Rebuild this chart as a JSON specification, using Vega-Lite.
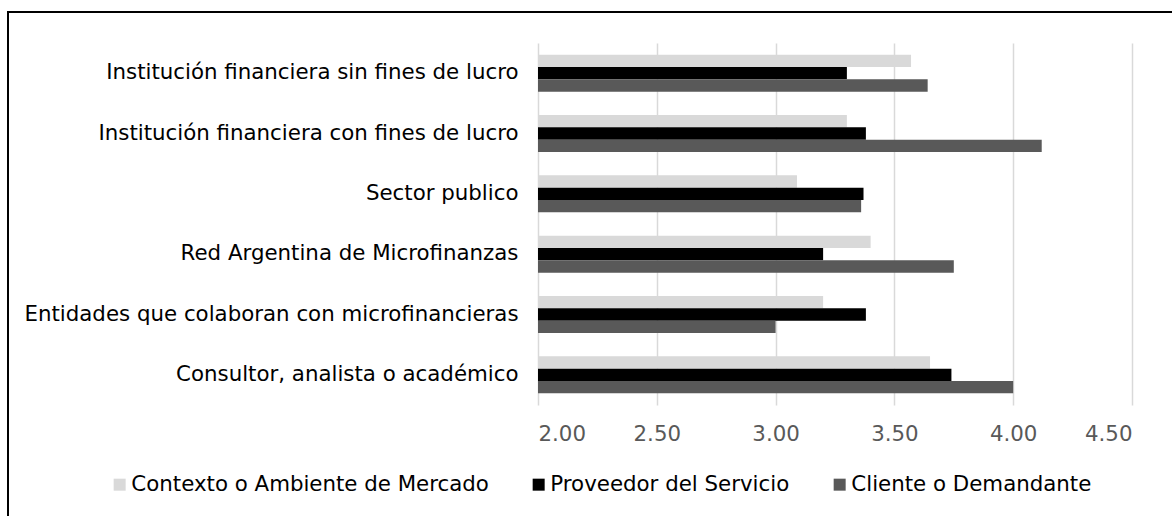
{
  "$schema": "https://vega.github.io/schema/vega-lite/v6.json",
  "width": 1180,
  "height": 520,
  "autosize": "none",
  "padding": {"left": 8, "top": 12, "right": 0, "bottom": 0},
  "background": "white",
  "config": {
    "font": "DejaVu Sans",
    "view": {"stroke": "#000000", "strokeWidth": 2}
  },
  "data": {
    "values": [
      {"categoria": "Institución financiera sin fines de lucro\u00a0", "serie": "Contexto o Ambiente de Mercado", "valor": 3.57},
      {"categoria": "Institución financiera sin fines de lucro\u00a0", "serie": "Proveedor del Servicio", "valor": 3.30},
      {"categoria": "Institución financiera sin fines de lucro\u00a0", "serie": "Cliente o Demandante", "valor": 3.64},
      {"categoria": "Institución financiera con fines de lucro\u00a0", "serie": "Contexto o Ambiente de Mercado", "valor": 3.30},
      {"categoria": "Institución financiera con fines de lucro\u00a0", "serie": "Proveedor del Servicio", "valor": 3.38},
      {"categoria": "Institución financiera con fines de lucro\u00a0", "serie": "Cliente o Demandante", "valor": 4.12},
      {"categoria": "Sector publico", "serie": "Contexto o Ambiente de Mercado", "valor": 3.09},
      {"categoria": "Sector publico", "serie": "Proveedor del Servicio", "valor": 3.37},
      {"categoria": "Sector publico", "serie": "Cliente o Demandante", "valor": 3.36},
      {"categoria": "Red Argentina de Microfinanzas", "serie": "Contexto o Ambiente de Mercado", "valor": 3.40},
      {"categoria": "Red Argentina de Microfinanzas", "serie": "Proveedor del Servicio", "valor": 3.20},
      {"categoria": "Red Argentina de Microfinanzas", "serie": "Cliente o Demandante", "valor": 3.75},
      {"categoria": "Entidades que colaboran con microfinancieras", "serie": "Contexto o Ambiente de Mercado", "valor": 3.20},
      {"categoria": "Entidades que colaboran con microfinancieras", "serie": "Proveedor del Servicio", "valor": 3.38},
      {"categoria": "Entidades que colaboran con microfinancieras", "serie": "Cliente o Demandante", "valor": 3.00},
      {"categoria": "Consultor, analista o académico", "serie": "Contexto o Ambiente de Mercado", "valor": 3.65},
      {"categoria": "Consultor, analista o académico", "serie": "Proveedor del Servicio", "valor": 3.74},
      {"categoria": "Consultor, analista o académico", "serie": "Cliente o Demandante", "valor": 4.00}
    ]
  },
  "encoding": {
    "y": {
      "field": "categoria",
      "type": "nominal",
      "sort": null,
      "scale": {"range": [31, 393], "paddingInner": 0.387, "paddingOuter": 0.1935},
      "axis": {
        "title": null,
        "orient": "left",
        "offset": -530,
        "domain": false,
        "ticks": false,
        "grid": false,
        "labelPadding": 20,
        "labelFontSize": 21.33,
        "labelColor": "#000000",
        "labelLimit": 700
      }
    },
    "yOffset": {
      "field": "serie",
      "type": "nominal",
      "sort": ["Contexto o Ambiente de Mercado", "Proveedor del Servicio", "Cliente o Demandante"],
      "scale": {"paddingInner": 0, "paddingOuter": 0}
    }
  },
  "layer": [
    {
      "mark": {"type": "bar", "opacity": 0},
      "encoding": {
        "x": {
          "field": "valor",
          "type": "quantitative",
          "scale": {"domain": [2, 4.5], "range": [530, 1124], "nice": false, "zero": false},
          "axis": {
            "title": null,
            "orient": "top",
            "values": [2, 2.5, 3, 3.5, 4, 4.5],
            "labels": false,
            "domain": false,
            "ticks": false,
            "grid": true,
            "gridColor": "#d9d9d9",
            "gridWidth": 1.5
          }
        },
        "x2": {"datum": 2}
      }
    },
    {
      "mark": {"type": "bar"},
      "encoding": {
        "x": {
          "field": "valor",
          "type": "quantitative",
          "axis": {
            "title": null,
            "orient": "bottom",
            "values": [2, 2.5, 3, 3.5, 4, 4.5],
            "format": ".2f",
            "offset": -127,
            "domain": false,
            "ticks": false,
            "grid": false,
            "labelFontSize": 21.33,
            "labelColor": "#595959",
            "labelPadding": 18
          }
        },
        "x2": {"datum": 2},
        "color": {
          "field": "serie",
          "type": "nominal",
          "scale": {
            "domain": ["Contexto o Ambiente de Mercado", "Proveedor del Servicio", "Cliente o Demandante"],
            "range": ["#d9d9d9", "#000000", "#595959"]
          },
          "legend": {
            "title": null,
            "orient": "none",
            "legendX": 101,
            "legendY": 462,
            "direction": "horizontal",
            "symbolType": "square",
            "symbolSize": 144,
            "symbolStrokeWidth": 0,
            "labelFontSize": 21.33,
            "labelColor": "#000000",
            "labelOffset": 1,
            "columnPadding": 39,
            "padding": 0,
            "labelLimit": 600
          }
        }
      }
    }
  ],
  "resolve": {"axis": {"x": "independent"}}
}
